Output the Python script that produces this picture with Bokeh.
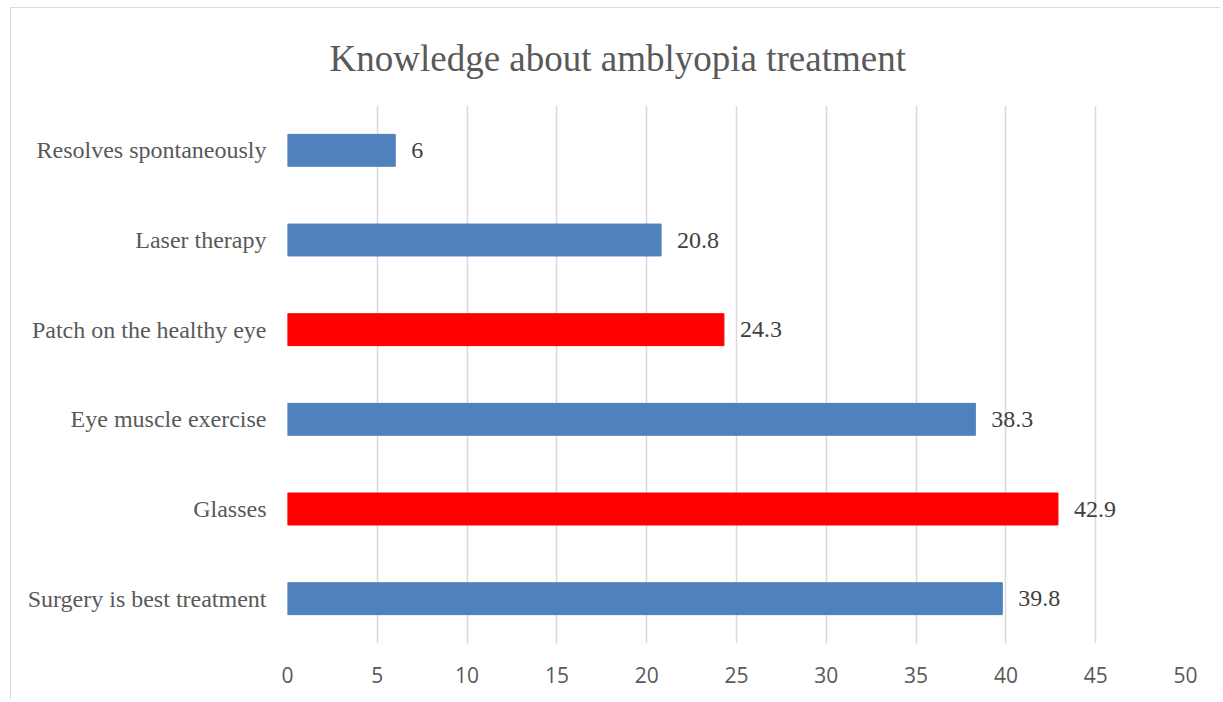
from bokeh.plotting import figure
from bokeh.models import ColumnDataSource, LabelSet, SingleIntervalTicker, Range1d, FactorRange
from bokeh.embed import file_html
from bokeh.resources import INLINE

title_text = "Knowledge about amblyopia treatment"
categories = ["Surgery is best treatment", "Glasses", "Eye muscle exercise",
              "Patch on the healthy eye", "Laser therapy", "Resolves spontaneously"]
values = [39.8, 42.9, 38.3, 24.3, 20.8, 6]
colors = ["#4f81bd", "#ff0000", "#4f81bd", "#ff0000", "#4f81bd", "#4f81bd"]
labels = ["39.8", "42.9", "38.3", "24.3", "20.8", "6"]

src = ColumnDataSource(dict(cat=categories, val=values, color=colors, label=labels))

p = figure(width=1210, height=692, y_range=FactorRange(*categories), x_range=Range1d(0, 50),
           output_backend="svg", toolbar_location=None,
           min_border_left=276, min_border_right=36, min_border_top=96, min_border_bottom=57)
p.margin = (7, 0, 0, 10)
p.styles = {"border-left": "1px solid #d9d9d9", "border-top": "1px solid #d9d9d9"}

p.hbar(y="cat", right="val", left=0, height=0.356, color="color", source=src)

p.add_layout(LabelSet(x="val", y="cat", text="label", source=src, x_offset=16,
                      text_baseline="middle", text_font="Liberation Serif",
                      text_font_size="24px", text_color="#404040"))

p.title.text = title_text
p.title.text_font = "Liberation Serif"
p.title.text_font_size = "37px"
p.title.text_font_style = "normal"
p.title.text_color = "#595959"
p.title.align = "left"
p.title.offset = 42
p.title.standoff = 54

p.outline_line_color = None
p.ygrid.grid_line_color = None
p.xgrid.grid_line_color = "#d9d9d9"
p.xgrid.grid_line_width = 1.5
p.xaxis.ticker = SingleIntervalTicker(interval=5)
p.xaxis.axis_line_color = None
p.xaxis.major_tick_line_color = None
p.xaxis.minor_tick_line_color = None
p.xaxis.major_tick_out = 0
p.xaxis.major_tick_in = 0
p.xaxis.major_label_text_font = "Open Sans"
p.xaxis.major_label_text_font_size = "21px"
p.xaxis.major_label_text_color = "#595959"
p.xaxis.major_label_standoff = 19

p.yaxis.axis_line_color = None
p.yaxis.major_tick_line_color = None
p.yaxis.minor_tick_line_color = None
p.yaxis.major_tick_out = 0
p.yaxis.major_tick_in = 0
p.yaxis.major_label_text_font = "Liberation Serif"
p.yaxis.major_label_text_font_size = "24px"
p.yaxis.major_label_text_color = "#595959"
p.yaxis.major_label_standoff = 21

open("out.html", "w").write(file_html(p, INLINE))
